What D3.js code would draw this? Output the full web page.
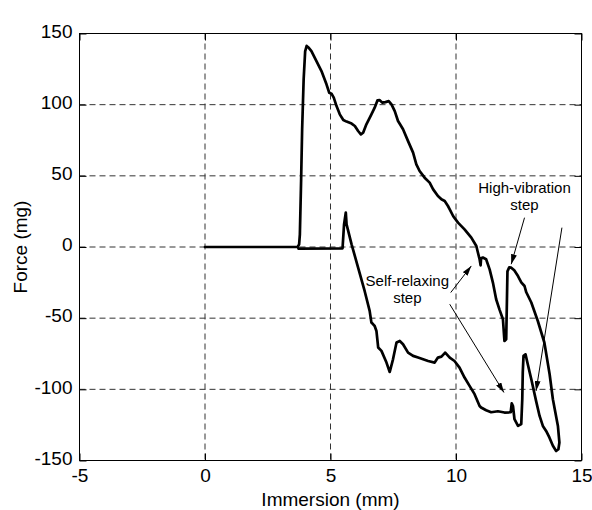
<!DOCTYPE html>
<html>
<head>
<meta charset="utf-8">
<script src="https://cdn.jsdelivr.net/npm/d3@7"></script>
<style>
  html, body { margin: 0; padding: 0; background: #fff; }
  svg { display: block; font-family: "Liberation Sans", Arial, Helvetica, sans-serif; }
</style>
</head>
<body>
<svg id="chart" width="592" height="510"></svg>
<script>
const xTicks = [-5, 0, 5, 10, 15];
const yTicks = [150, 100, 50, 0, -50, -100, -150];
const xGrid = [0, 5, 10];
const yGrid = [100, 50, 0, -50, -100];

// [immersion mm, force mg] — going in, from the start to the bottom-right turn
const upperBranch = [
    [0, 0], [3.69, 0], [3.75, 1.9], [3.78, 8.9], [3.83, 47.5], [3.87, 82.6],
    [3.93, 117.7], [3.99, 137.4], [4.05, 141.3], [4.12, 140.2], [4.24, 137.6],
    [4.44, 130.6], [4.64, 123.6], [4.84, 114.3], [4.95, 108.4], [5.04, 107.7],
    [5.13, 104.9], [5.24, 99.0], [5.37, 93.2], [5.51, 89.2], [5.64, 88.1],
    [5.84, 86.7], [5.97, 85.0], [6.10, 81.5], [6.21, 79.1], [6.30, 80.3],
    [6.43, 86.2], [6.63, 93.2], [6.76, 97.9], [6.87, 103.0], [6.96, 103.2],
    [7.06, 101.4], [7.19, 101.8], [7.32, 102.5], [7.43, 100.2], [7.56, 95.5],
    [7.69, 88.5], [7.77, 86.2], [7.89, 82.7], [8.09, 74.4], [8.29, 66.3],
    [8.42, 58.1], [8.55, 53.4], [8.75, 48.7], [8.95, 45.2], [9.09, 40.5],
    [9.28, 35.8], [9.42, 33.5], [9.55, 32.3], [9.68, 28.8], [9.75, 26.5],
    [9.89, 21.6], [10.08, 17.1], [10.34, 12.4], [10.61, 6.6], [10.81, 0.7],
    [10.87, -3.7], [10.94, -8.6], [10.98, -12.9], [11.0, -7.9], [11.07, -7.4],
    [11.2, -8.6], [11.34, -15.7], [11.47, -25.0], [11.6, -36.7], [11.73, -43.8],
    [11.87, -50.8], [11.93, -66.0], [12.0, -64.8], [12.03, -36.7], [12.05, -17.1],
    [12.12, -14.3], [12.2, -14.5], [12.32, -16.4], [12.47, -20.4], [12.6, -24.8],
    [12.73, -27.4], [12.8, -31.8], [13.0, -39.0], [13.26, -52.0], [13.52, -67.1],
    [13.73, -89.4], [13.86, -107], [14.06, -125.7], [14.12, -137.4], [14.08, -142.1],
    [13.99, -143.3]
];

// coming back, from the bottom-right turn to the contact point
const lowerBranch = [
    [13.86, -139.7], [13.72, -133.8], [13.59, -129.2], [13.46, -125.7], [13.33, -118.7],
    [13.19, -108.1], [13.0, -92.9], [12.86, -82.4], [12.77, -75.4], [12.69, -76.5],
    [12.66, -88.2], [12.64, -106.9], [12.6, -124.4], [12.47, -125.7], [12.33, -121.0],
    [12.27, -111.7], [12.22, -109.8], [12.18, -116.1], [11.93, -116.3], [11.67, -115.4],
    [11.4, -116.1], [11.2, -114.7], [11.0, -112.8], [10.94, -111.7], [10.74, -103.4],
    [10.54, -97.6], [10.34, -91.7], [10.14, -84.7], [9.94, -80.1], [9.75, -77.7],
    [9.57, -74.2], [9.42, -77.0], [9.28, -77.7], [9.15, -81.2], [8.89, -80.1],
    [8.69, -78.9], [8.49, -77.7], [8.29, -76.5], [8.09, -74.2], [7.89, -68.3],
    [7.76, -66.0], [7.63, -67.1], [7.49, -78.9], [7.36, -87.8], [7.23, -81.2],
    [7.03, -73.0], [6.90, -70.6], [6.83, -59.0], [6.76, -55.5], [6.70, -54.3],
    [6.63, -53.1], [6.56, -44.9], [6.36, -30.9], [6.10, -14.5], [5.84, 1.9],
    [5.64, 15.9], [5.61, 24.2], [5.54, 15.9], [5.48, -0.9], [3.72, -1.1]
];

const labels = [
    { lines: ['High-vibration', 'step'], x: 12.73, y: 38.2 },
    { lines: ['Self-relaxing', 'step'], x: 8.06, y: -27.6 }
];

// [from, to] in data units
const arrows = [
    [[12.73, 20.6], [12.2, -12.1]],
    [[14.22, 13.6], [13.19, -101.1]],
    [[9.79, -32.0], [10.61, -13.3]],
    [[9.75, -40.2], [11.91, -102.2]]
];

const svg = d3.select('#chart');
const W = 592, H = 510;
const margin = { top: 33.5, right: 10.5, bottom: 49.5, left: 79.5 };

const x = d3.scaleLinear().domain([-5, 15]).range([margin.left, W - margin.right]);
const y = d3.scaleLinear().domain([-150, 150]).range([H - margin.bottom, margin.top]);

svg.append('rect').attr('width', W).attr('height', H).attr('fill', '#fff');

const defs = svg.append('defs');
defs.append('marker')
    .attr('id', 'arrowhead')
    .attr('viewBox', '0 0 10 6')
    .attr('refX', 10).attr('refY', 3)
    .attr('markerWidth', 10).attr('markerHeight', 6)
    .attr('markerUnits', 'userSpaceOnUse')
    .attr('orient', 'auto')
    .append('path')
    .attr('d', 'M0,0 L10,3 L0,6 Z')
    .attr('fill', '#000');

// grid
const grid = svg.append('g')
    .attr('stroke', '#333')
    .attr('stroke-width', 1)
    .attr('stroke-dasharray', '6,4');

grid.selectAll('.vg').data(xGrid).join('line')
    .attr('x1', d => x(d)).attr('x2', d => x(d))
    .attr('y1', y(150)).attr('y2', y(-150));

grid.selectAll('.hg').data(yGrid).join('line')
    .attr('x1', x(-5)).attr('x2', x(15))
    .attr('y1', d => y(d)).attr('y2', d => y(d));

// axes, ticks pointing in
const fontSize = '19px';

const left = svg.append('g')
    .attr('transform', `translate(${margin.left},0)`)
    .call(d3.axisLeft(y).tickValues(yTicks).tickSize(-7).tickPadding(7).tickFormat(d => String(d)));
left.selectAll('text').attr('dy', '0.2em');

const bottom = svg.append('g')
    .attr('transform', `translate(0,${H - margin.bottom})`)
    .call(d3.axisBottom(x).tickValues(xTicks).tickSize(-7).tickPadding(8.5).tickFormat(d => String(d)));

svg.append('g')
    .attr('transform', `translate(${W - margin.right},0)`)
    .call(d3.axisRight(y).tickValues(yTicks).tickSize(-7).tickFormat(''));

svg.append('g')
    .attr('transform', `translate(0,${margin.top})`)
    .call(d3.axisTop(x).tickValues(xTicks).tickSize(-7).tickFormat(''));

svg.selectAll('.domain').remove();
svg.selectAll('.tick line').attr('stroke', '#000');
svg.selectAll('.tick text')
    .attr('fill', '#000')
    .style('font-size', fontSize)
    .style('font-family', '"Liberation Sans", Arial, Helvetica, sans-serif');

svg.append('rect')
    .attr('x', x(-5)).attr('y', y(150))
    .attr('width', x(15) - x(-5))
    .attr('height', y(-150) - y(150))
    .attr('fill', 'none')
    .attr('stroke', '#000')
    .attr('stroke-width', 1);

// data curve
const line = d3.line().x(d => x(d[0])).y(d => y(d[1]));

svg.append('path')
    .attr('d', line(upperBranch.concat(lowerBranch)))
    .attr('fill', 'none')
    .attr('stroke', '#000')
    .attr('stroke-width', 2.7)
    .attr('stroke-linejoin', 'round')
    .attr('stroke-linecap', 'round');

// annotations
svg.append('g').selectAll('line').data(arrows).join('line')
    .attr('x1', d => x(d[0][0])).attr('y1', d => y(d[0][1]))
    .attr('x2', d => x(d[1][0])).attr('y2', d => y(d[1][1]))
    .attr('stroke', '#000')
    .attr('stroke-width', 1)
    .attr('marker-end', 'url(#arrowhead)');

labels.forEach(l => {
    const t = svg.append('text')
        .attr('x', x(l.x))
        .attr('y', y(l.y))
        .attr('text-anchor', 'middle')
        .style('font-size', '15px')
        .attr('fill', '#000');
    l.lines.forEach((s, i) => {
        t.append('tspan')
            .attr('x', x(l.x))
            .attr('dy', i === 0 ? 0 : '1.13em')
            .text(s);
    });
});

// axis titles
svg.append('text')
    .attr('x', (x(-5) + x(15)) / 2)
    .attr('y', 506)
    .attr('text-anchor', 'middle')
    .style('font-size', fontSize)
    .text('Immersion (mm)');

svg.append('text')
    .attr('transform', `translate(26.5,${(y(150) + y(-150)) / 2}) rotate(-90)`)
    .attr('text-anchor', 'middle')
    .style('font-size', fontSize)
    .text('Force (mg)');
</script>
</body>
</html>
